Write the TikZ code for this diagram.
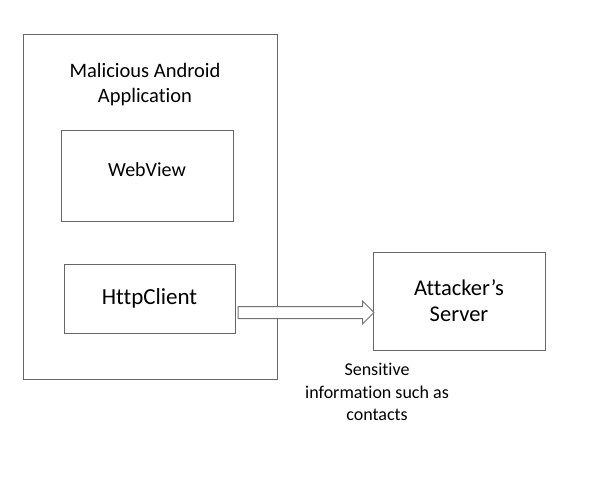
\documentclass[tikz,border=0pt]{standalone}
\usepackage{fontspec}
\setmainfont{Carlito}[Ligatures=NoCommon]
\usetikzlibrary{shapes.arrows}
\tikzset{box/.style={draw=black!60, line width=1pt, inner sep=0pt},
    txt/.style={align=center, inner sep=0pt},
    flowarrow/.style={single arrow, draw=black!55, fill=white, line width=1pt,
        inner xsep=0pt, inner ysep=5.5pt, minimum height=136pt, single arrow head extend=5.5pt,
        single arrow tip angle=90, anchor=tail},
    }

\begin{document}
\begin{tikzpicture}[x=1pt,y=-1pt]
	\useasboundingbox (0,0) rectangle (596,492);
	\node[box, minimum width=254pt, minimum height=344pt] (app) at (150,207) {};
	\node[txt, font=\fontsize{20.5}{25}\selectfont] (title) at (145,85) {Malicious Android\\Application};
	\node[box, minimum width=172pt, minimum height=91pt] (webview) at (147,176) {};
	\node[txt, font=\fontsize{20}{24}\selectfont] (webviewtext) at ([yshift=6pt]webview.center) {WebView};
	\node[box, minimum width=171pt, minimum height=69pt, font=\fontsize{23}{26}\selectfont] (http) at (149.5,298.5) {HttpClient};
	\node[box, minimum width=172pt, minimum height=98pt, align=center, font=\fontsize{22.5}{26}\selectfont] (server) at (459,301) {Attacker’s\\Server};
	\node[flowarrow] (flow) at ([xshift=2pt,yshift=-14pt]http.east) {};
	\node[txt, font=\fontsize{18}{22.5}\selectfont] (info) at (377,392) {Sensitive\\information such as\\contacts};
\end{tikzpicture}
\end{document}
